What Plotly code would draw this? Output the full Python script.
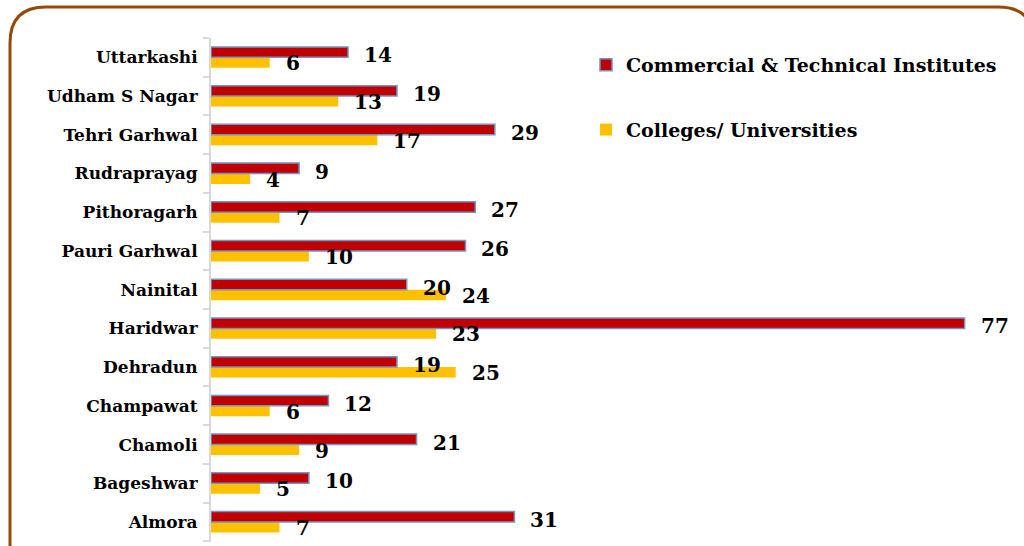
import plotly.graph_objects as go

districts = ["Almora", "Bageshwar", "Chamoli", "Champawat", "Dehradun", "Haridwar",
             "Nainital", "Pauri Garhwal", "Pithoragarh", "Rudraprayag", "Tehri Garhwal",
             "Udham S Nagar", "Uttarkashi"]
commercial_technical = [31, 10, 21, 12, 19, 77, 20, 26, 27, 9, 29, 19, 14]
colleges_universities = [7, 5, 9, 6, 25, 23, 24, 10, 7, 4, 17, 13, 6]

FONT = "DejaVu Serif"
W, H = 1024, 546
L, R, T, B = 211, 30, 38, 4

fig = go.Figure()
fig.add_trace(go.Bar(
    y=districts, x=colleges_universities, orientation="h",
    name="Colleges/ Universities", marker=dict(color="#FFC000", line=dict(width=0)),
    legendgroup="b", legendrank=2,
))
fig.add_trace(go.Bar(
    y=districts, x=commercial_technical, orientation="h",
    name="Commercial & Technical Institutes",
    marker=dict(color="#C00000", line=dict(color="#6F95C9", width=1.5)),
    legendgroup="a", legendrank=1,
))

annotations = []
for d, v in zip(districts, commercial_technical):
    annotations.append(dict(x=v, y=d, xref="x", yref="y", text=str(v), showarrow=False,
                            xanchor="left", yanchor="middle", xshift=14, yshift=2,
                            font=dict(family=FONT, size=20, color="#000000", weight="bold")))
for d, v in zip(districts, colleges_universities):
    annotations.append(dict(x=v, y=d, xref="x", yref="y", text=str(v), showarrow=False,
                            xanchor="left", yanchor="middle", xshift=14, yshift=-6,
                            font=dict(family=FONT, size=20, color="#000000", weight="bold")))

# rounded border in pixel space -> paper coords
pw, ph = W - L - R, H - T - B
def px(x): return (x - L) / pw
def py(y): return (H - B - y) / ph
x0, y0, x1, y1, r = 10, 7, 1034, 580, 36
path = (f"M {px(x0+r)},{py(y0)} L {px(x1-r)},{py(y0)} "
        f"Q {px(x1)},{py(y0)} {px(x1)},{py(y0+r)} L {px(x1)},{py(y1-r)} "
        f"Q {px(x1)},{py(y1)} {px(x1-r)},{py(y1)} L {px(x0+r)},{py(y1)} "
        f"Q {px(x0)},{py(y1)} {px(x0)},{py(y1-r)} L {px(x0)},{py(y0+r)} "
        f"Q {px(x0)},{py(y0)} {px(x0+r)},{py(y0)} Z")

fig.update_layout(
    width=W, height=H,
    margin=dict(l=L, r=R, t=T, b=B),
    paper_bgcolor="white", plot_bgcolor="white",
    barmode="group", bargap=0.46, bargroupgap=0,
    showlegend=True,
    legend=dict(x=px(586), y=py(46), xanchor="left", yanchor="top",
                font=dict(family=FONT, size=19, color="#000000", weight="bold"),
                tracegroupgap=37, itemwidth=30, bgcolor="rgba(0,0,0,0)"),
    xaxis=dict(range=[0, 80], visible=False),
    yaxis=dict(categoryorder="array", categoryarray=districts,
               showline=True, linecolor="#D9D9D9", linewidth=2,
               ticks="outside", tickson="boundaries", ticklen=6, tickcolor="#D9D9D9",
               tickwidth=2, ticklabelstandoff=8, showgrid=False,
               tickfont=dict(family=FONT, size=17, color="#000000", weight="bold")),
    annotations=annotations,
    shapes=[dict(type="path", path=path, xref="paper", yref="paper",
                 line=dict(color="#984807", width=3), layer="below")],
)
fig.write_html("out.html", config={"displayModeBar": False},
               post_script="document.body.style.margin='0';")
